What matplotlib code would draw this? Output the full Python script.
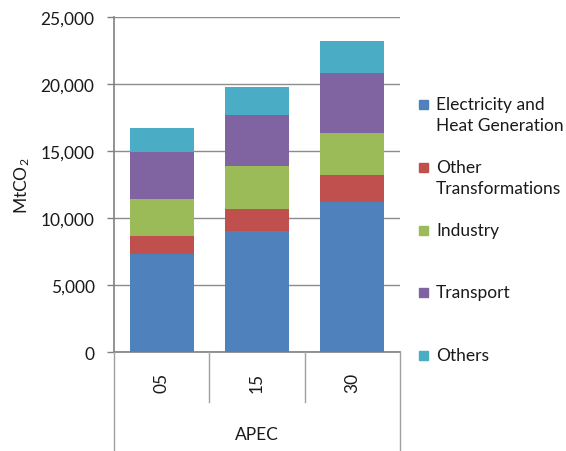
import matplotlib
matplotlib.use("Agg")
import matplotlib.pyplot as plt
from matplotlib.patches import Rectangle
from matplotlib.lines import Line2D
import numpy as np

categories = ["05", "15", "30"]
group_label = "APEC"
series_names = ["Electricity and\nHeat Generation", "Other\nTransformations",
                "Industry", "Transport", "Others"]
electricity = [7350, 9000, 11190]
other_trans = [1320, 1690, 1990]
industry = [2720, 3190, 3170]
transport = [3510, 3790, 4500]
others = [1820, 2110, 2370]
colors = ["#4F81BD", "#C0504D", "#9BBB59", "#8064A2", "#4BACC6"]
yticks = [0, 5000, 10000, 15000, 20000, 25000]

plt.rcParams['font.family'] = ['Lato', 'DejaVu Sans']
plt.rcParams['mathtext.default'] = 'regular'

W, H = 566, 452
fig = plt.figure(figsize=(W / 100, H / 100), dpi=100)
ax = fig.add_axes([114 / W, 1 - 353 / H, 286 / W, 335 / H])

x = np.arange(len(categories))
bottom = np.zeros(len(categories))
for vals, c in zip([electricity, other_trans, industry, transport, others], colors):
    ax.bar(x, vals, bottom=bottom, width=0.67, color=c, edgecolor='none', zorder=3)
    bottom += np.array(vals)

ax.set_xlim(-0.5, len(categories) - 0.5)
ax.set_ylim(0, 25000)
ax.set_yticks(yticks)
ax.set_yticklabels([f"{v:,}" for v in yticks], fontsize=12.5, color='#1a1a1a')
ax.yaxis.grid(True, color='#8c8c8c', linewidth=1.0, zorder=0)
ax.set_axisbelow(True)
ax.tick_params(axis='y', length=5, width=1, color='#808080', direction='out', pad=9)
ax.set_xticks([])
for s in ['top', 'right']:
    ax.spines[s].set_visible(False)
ax.spines['left'].set_color('#808080')
ax.spines['left'].set_linewidth(1.2)
ax.spines['bottom'].set_color('#808080')
ax.spines['bottom'].set_linewidth(1.2)
ax.set_ylabel(r'MtCO$_2$', fontsize=12.5, color='#1a1a1a', labelpad=6)

# category separator lines and labels below the axis
trans = matplotlib.transforms.blended_transform_factory(ax.transData, fig.transFigure)
n = len(categories)
for i in range(n + 1):
    xb = i - 0.5
    ybot = 0.0 if i in (0, n) else 1 - 403 / H
    fig.add_artist(Line2D([xb, xb], [1 - 353 / H, ybot], transform=trans,
                          color='#a0a0a0', linewidth=1.0))
for i, c in enumerate(categories):
    fig.text(i, 1 - 383 / H, c, transform=trans, rotation=90, ha='center', va='center',
             fontsize=12.5, color='#1a1a1a')
fig.text((n - 1) / 2, 1 - 435 / H, group_label, transform=trans, ha='center', va='center',
         fontsize=12.5, color='#1a1a1a')

# legend
entry_tops = [97, 160, 223, 285, 348]
for name, c, yt in zip(series_names, colors, entry_tops):
    fig.add_artist(Rectangle((419 / W, 1 - (yt + 13) / H), 9 / W, 9 / H,
                             transform=fig.transFigure, color=c))
    fig.text(436 / W, 1 - yt / H, name, ha='left', va='top', fontsize=12.5,
             color='#1a1a1a', linespacing=1.4)

fig.savefig("out.png", dpi=100)
